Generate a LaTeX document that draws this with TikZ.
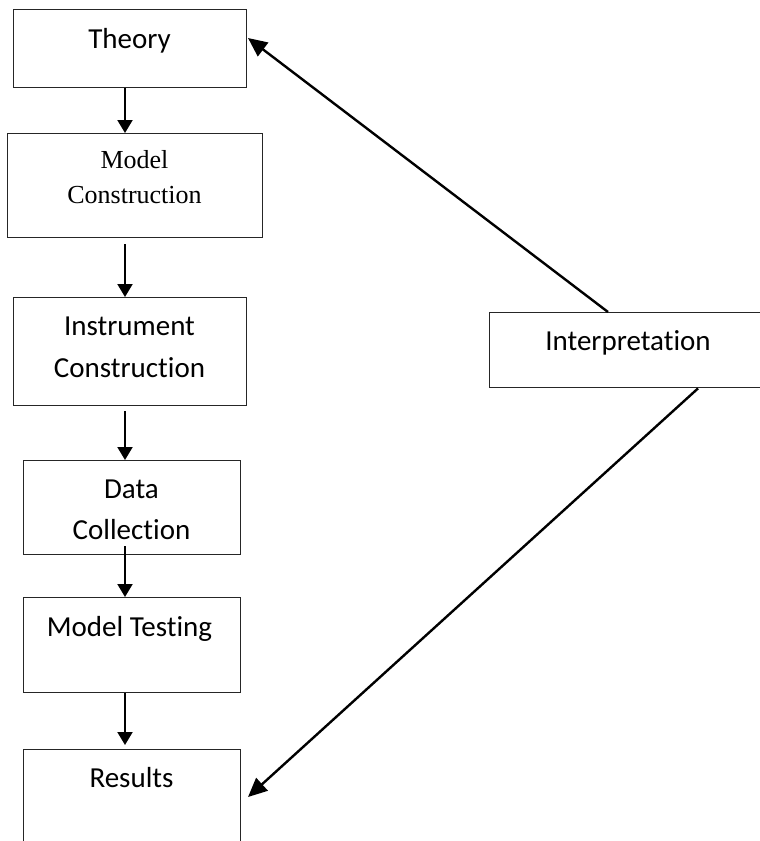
\documentclass[tikz,border=0pt]{standalone}
\usepackage{fontspec}
\setmainfont[Ligatures={NoCommon}]{Carlito}
\newfontfamily\modelserif{Liberation Serif}
\usetikzlibrary{arrows.meta}
\begin{document}
\begin{tikzpicture}[x=1pt,y=-1pt,
  box/.style={draw=black!85, line width=1.4pt, rectangle, inner sep=0pt, anchor=north west},
  lbl/.style={anchor=base, inner sep=0pt, font=\fontsize{29}{35}\selectfont},
  slbl/.style={anchor=base, inner sep=0pt, font=\modelserif\fontsize{26}{31}\selectfont},
  flow/.style={line width=2.1pt, -{Triangle[length=13pt,width=15pt]}},
  back/.style={line width=2.4pt, -{Triangle[length=19pt,width=17pt]}}]
\useasboundingbox (0,0) rectangle (760,841);
\clip (0,0) rectangle (760,841);

% boxes
\node[box, minimum width=233pt, minimum height=78pt]  (theory)  at (13,9)   {};
\node[box, minimum width=255pt, minimum height=104pt] (model)   at (7,133)  {};
\node[box, minimum width=233pt, minimum height=108pt] (instr)   at (13,297) {};
\node[box, minimum width=217pt, minimum height=94pt]  (data)    at (23,460) {};
\node[box, minimum width=217pt, minimum height=95pt]  (test)    at (23,597) {};
\node[box, minimum width=217pt, minimum height=130pt] (results) at (23,749) {};
\node[box, minimum width=290pt, minimum height=75pt]  (interp)  at (489,312) {};

% labels
\node[lbl]  (tTheory)  at (129.5,48)  {Theory};
\node[slbl] (tModel1)  at (134.5,168) {Model};
\node[slbl] (tModel2)  at (134.5,203) {Construction};
\node[lbl]  (tInstr1)  at (129.5,335) {Instrument};
\node[lbl]  (tInstr2)  at (129.5,377) {Construction};
\node[lbl]  (tData1)   at (131.5,498) {Data};
\node[lbl]  (tData2)   at (131.5,539) {Collection};
\node[lbl]  (tTest)    at (129.5,636) {Model Testing};
\node[lbl]  (tRes)     at (131.5,787) {Results};
\node[lbl]  (tInterp)  at (628,350)   {Interpretation};

% main chain
\coordinate (ax) at (125,0);
\draw[flow] (theory.south -| ax) -- (model.north -| ax);
\draw[flow] ([yshift=-6pt]model.south -| ax) -- (instr.north -| ax);
\draw[flow] ([yshift=-5pt]instr.south -| ax) -- (data.north -| ax);
\draw[flow] ([yshift=9pt]data.south -| ax) -- (test.north -| ax);
\draw[flow] (test.south -| ax) -- ([yshift=4pt]results.north -| ax);

% feedback from interpretation
\coordinate (tipT) at (248,38);
\coordinate (tipR) at (248,797);
\draw[back] ([xshift=119pt]interp.north west) -- (tipT);
\draw[back] ([xshift=209pt]interp.south west) -- (tipR);
\end{tikzpicture}
\end{document}
